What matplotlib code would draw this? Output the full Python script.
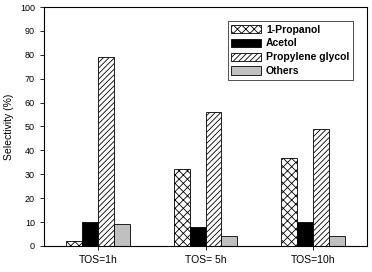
import matplotlib
matplotlib.use("Agg")
import matplotlib.pyplot as plt
import numpy as np

plt.rcParams['font.family'] = ['Liberation Sans', 'DejaVu Sans']
plt.rcParams['hatch.linewidth'] = 0.6

categories = ['TOS=1h', 'TOS= 5h', 'TOS=10h']
series = ['1-Propanol', 'Acetol', 'Propylene glycol', 'Others']
propanol = [2, 32, 37]
acetol = [10, 8, 10]
glycol = [79, 56, 49]
others = [9, 4, 4]

values = [propanol, acetol, glycol, others]
colors = ['white', 'black', 'white', '#c0c0c0']
hatches = ['xxxx', None, '//////', None]

fig = plt.figure(figsize=(3.72, 2.72), dpi=100)
ax = fig.add_axes([0.118, 0.096, 0.869, 0.878])

x = np.arange(len(categories))
w = 0.148
for i, (vals, name) in enumerate(zip(values, series)):
    ax.bar(x + (i - 1.5) * w, vals, w, color=colors[i], edgecolor='black',
           hatch=hatches[i], linewidth=0.6, label=name)

ax.set_xlim(-0.5, 2.5)
ax.set_ylim(0, 100)
ax.set_yticks(range(0, 101, 10))
ax.set_xticks(x)
ax.set_xticklabels(categories, fontsize=7.5)
ax.tick_params(axis='y', labelsize=6.5, length=3, width=0.6)
ax.tick_params(axis='x', length=3, width=0.6)
ax.set_ylabel('Selectivity (%)', fontsize=7.5)
for s in ax.spines.values():
    s.set_linewidth(0.8)

leg = ax.legend(loc='upper right', bbox_to_anchor=(0.955, 0.94),
                prop={'weight': 'bold', 'size': 7.5}, frameon=True, fancybox=False,
                edgecolor='black', handlelength=2.9, handleheight=0.9,
                labelspacing=0.38, borderpad=0.3, handletextpad=0.5,
                borderaxespad=0)
leg.get_frame().set_linewidth(0.6)

fig.savefig('out.png', dpi=100)
